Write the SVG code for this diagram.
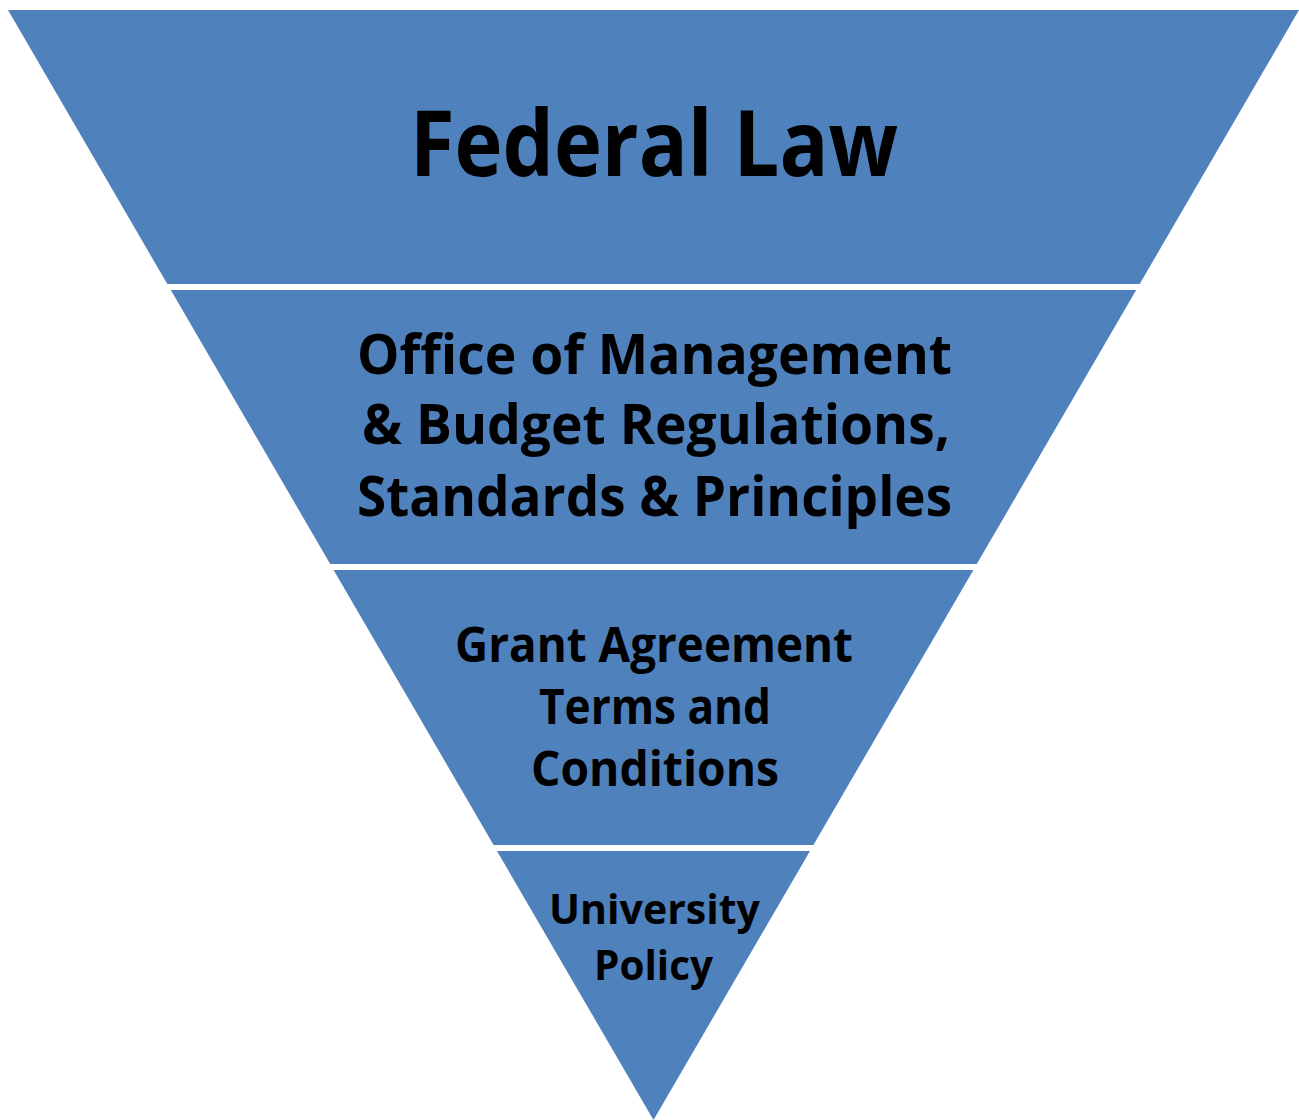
<svg xmlns="http://www.w3.org/2000/svg" width="1299" height="1120" viewBox="0 0 1299 1120">
<style>
.band{fill:#4F81BD;}
.t{font-family:"Open Sans","Noto Sans","Liberation Sans",sans-serif;font-weight:bold;fill:#000;}
</style>
<rect x="0" y="0" width="1299" height="1120" fill="#FFFFFF"/>
<g id="federal-law">
<polygon class="band" points="8,10 1299,10 1139.7,284 167.3,284"/>
<text class="t" x="410" y="176" font-size="92" textLength="488" lengthAdjust="spacingAndGlyphs">Federal Law</text>
</g>
<g id="omb">
<polygon class="band" points="170.8,290 1136.2,290 976.8,564 330.2,564"/>
<text class="t" x="357" y="374" font-size="56" textLength="595" lengthAdjust="spacingAndGlyphs">Office of Management</text>
<text class="t" x="362" y="444" font-size="56" textLength="588" lengthAdjust="spacingAndGlyphs">&amp; Budget Regulations,</text>
<text class="t" x="357" y="516" font-size="56" textLength="595" lengthAdjust="spacingAndGlyphs">Standards &amp; Principles</text>
</g>
<g id="grant">
<polygon class="band" points="333.6,570 973.4,570 813.4,845 493.6,845"/>
<text class="t" x="455" y="662" font-size="48" textLength="398" lengthAdjust="spacingAndGlyphs">Grant Agreement</text>
<text class="t" x="539" y="724" font-size="48" textLength="232" lengthAdjust="spacingAndGlyphs">Terms and</text>
<text class="t" x="531" y="786" font-size="48" textLength="248" lengthAdjust="spacingAndGlyphs">Conditions</text>
</g>
<g id="university">
<polygon class="band" points="497,851 810,851 653.5,1120"/>
<text class="t" x="549" y="924" font-size="41" textLength="211" lengthAdjust="spacingAndGlyphs">University</text>
<text class="t" x="594" y="980" font-size="41" textLength="119" lengthAdjust="spacingAndGlyphs">Policy</text>
</g>
<g id="connectors"/>
</svg>
